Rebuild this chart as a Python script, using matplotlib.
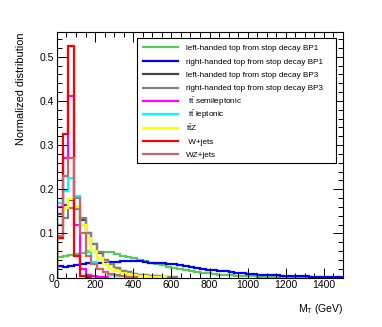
import numpy as np
import matplotlib
matplotlib.use("Agg")
import matplotlib.pyplot as plt
from matplotlib.ticker import MultipleLocator
from matplotlib.lines import Line2D
from matplotlib.patches import Rectangle

plt.rcParams['font.family'] = ['Liberation Sans', 'DejaVu Sans']
plt.rcParams['mathtext.fontset'] = 'custom'
plt.rcParams['mathtext.rm'] = 'Liberation Sans'
plt.rcParams['mathtext.it'] = 'Liberation Sans:italic'

# 30 GeV bins from 0 to 1500
bin_edges = np.arange(0, 1501, 30)

labels = [
    "left-handed top from stop decay BP1",
    "right-handed top from stop decay BP1",
    "left-handed top from stop decay BP3",
    "right-handed top from stop decay BP3",
    r" $\mathrm{t\bar{t}}$ semileptonic",
    r" $\mathrm{t\bar{t}}$ leptonic",
    r"$\mathrm{t\bar{t}Z}$",
    " W+jets",
    "WZ+jets",
]
colors = ["#55cc55", "#0000ff", "#454545", "#808080", "#ff00ff",
          "#00ffff", "#ffff00", "#ff0000", "#cc6666"]

lh_bp1 = [0.047, 0.049, 0.051, 0.053, 0.056, 0.058, 0.060, 0.059, 0.058, 0.057,
          0.054, 0.050, 0.047, 0.044, 0.041, 0.037, 0.034, 0.031, 0.028, 0.025,
          0.022, 0.019, 0.017, 0.015, 0.013, 0.011, 0.010, 0.008, 0.007, 0.006,
          0.005, 0.004, 0.004, 0.003, 0.003, 0.002, 0.002, 0.002, 0.001, 0.001,
          0.001, 0.001, 0.0008, 0.0006, 0.0005, 0.0004, 0.0003, 0.0002, 0.0002, 0.0001]
rh_bp1 = [0.026, 0.025, 0.027, 0.028, 0.030, 0.032, 0.033, 0.034, 0.034, 0.035,
          0.036, 0.037, 0.038, 0.038, 0.037, 0.036, 0.034, 0.033, 0.032, 0.031,
          0.030, 0.028, 0.026, 0.024, 0.022, 0.020, 0.018, 0.017, 0.015, 0.014,
          0.012, 0.011, 0.010, 0.009, 0.008, 0.007, 0.006, 0.005, 0.005, 0.004,
          0.004, 0.003, 0.003, 0.003, 0.002, 0.002, 0.002, 0.002, 0.001, 0.001]
lh_bp3 = [0.145, 0.165, 0.175, 0.160, 0.130, 0.100, 0.075, 0.055, 0.040, 0.030,
          0.022, 0.016, 0.012, 0.009, 0.007, 0.005, 0.004, 0.003, 0.002, 0.002, 0.001]
rh_bp3 = [0.120, 0.135, 0.158, 0.155, 0.135, 0.100, 0.075, 0.058, 0.040, 0.030,
          0.022, 0.016, 0.012, 0.009, 0.007, 0.005, 0.004, 0.003, 0.002, 0.002, 0.001]
tt_semi = [0.160, 0.270, 0.410, 0.120, 0.020, 0.006, 0.003, 0.002, 0.001]
tt_lep = [0.170, 0.195, 0.225, 0.185, 0.120, 0.060, 0.035, 0.020, 0.012, 0.007,
          0.004, 0.003, 0.002, 0.001]
ttz = [0.138, 0.158, 0.178, 0.160, 0.120, 0.090, 0.060, 0.045, 0.030, 0.020,
       0.014, 0.010, 0.008, 0.006, 0.004, 0.003, 0.002, 0.002, 0.001]
wjets = [0.090, 0.325, 0.525, 0.050, 0.003, 0.001]
wzjets = [0.095, 0.230, 0.270, 0.180, 0.100, 0.050, 0.030, 0.020, 0.012, 0.008,
          0.005, 0.003, 0.002, 0.001]

series = [lh_bp1, rh_bp1, lh_bp3, rh_bp3, tt_semi, tt_lep, ttz, wjets, wzjets]

W, H = 382, 327
fig = plt.figure(figsize=(W / 100, H / 100), dpi=100)
ax = fig.add_axes([0.149, 0.151, 0.749, 0.750])

for vals, col in zip(series, colors):
    edges = bin_edges[:len(vals) + 1]
    ax.stairs(vals, edges, color=col, linewidth=1.6)

ax.set_xlim(0, 1500)
ax.set_ylim(0, 0.555)
ax.xaxis.set_major_locator(MultipleLocator(200))
ax.xaxis.set_minor_locator(MultipleLocator(50))
ax.yaxis.set_minor_locator(MultipleLocator(0.02))
ax.set_yticks([0, 0.1, 0.2, 0.3, 0.4, 0.5])
ax.set_yticklabels(["0", "0.1", "0.2", "0.3", "0.4", "0.5"])
ax.tick_params(which='both', direction='in', top=True, right=True,
               labelsize=7.5, width=0.7, pad=2)
ax.tick_params(which='major', length=7)
ax.tick_params(which='minor', length=3.5)
for s in ax.spines.values():
    s.set_linewidth(0.8)

ax.set_ylabel("Normalized distribution", fontsize=7.9, loc='top', labelpad=10)
ax.set_xlabel(r"M$_\mathrm{T}$ (GeV)", fontsize=7.5, loc='right', labelpad=8)

# legend box drawn by hand (ROOT TLegend look, evenly spaced rows)
def fx(px):
    return px / W

def fy(py):
    return 1 - py / H

fig.add_artist(Rectangle((fx(137), fy(163)), fx(336) - fx(137), fy(38) - fy(163),
                         transform=fig.transFigure, facecolor='white',
                         edgecolor='black', linewidth=0.8, zorder=5))
for i, (col, lab) in enumerate(zip(colors, labels)):
    yc = 47.3 + 13.4 * i
    fig.add_artist(Line2D([fx(143), fx(178)], [fy(yc), fy(yc)], color=col,
                          linewidth=1.6, transform=fig.transFigure, zorder=6))
    fig.text(fx(186), fy(yc + 2.9), lab, fontsize=5.9, va='baseline',
             ha='left', zorder=6)

fig.savefig("out.png", dpi=100)
